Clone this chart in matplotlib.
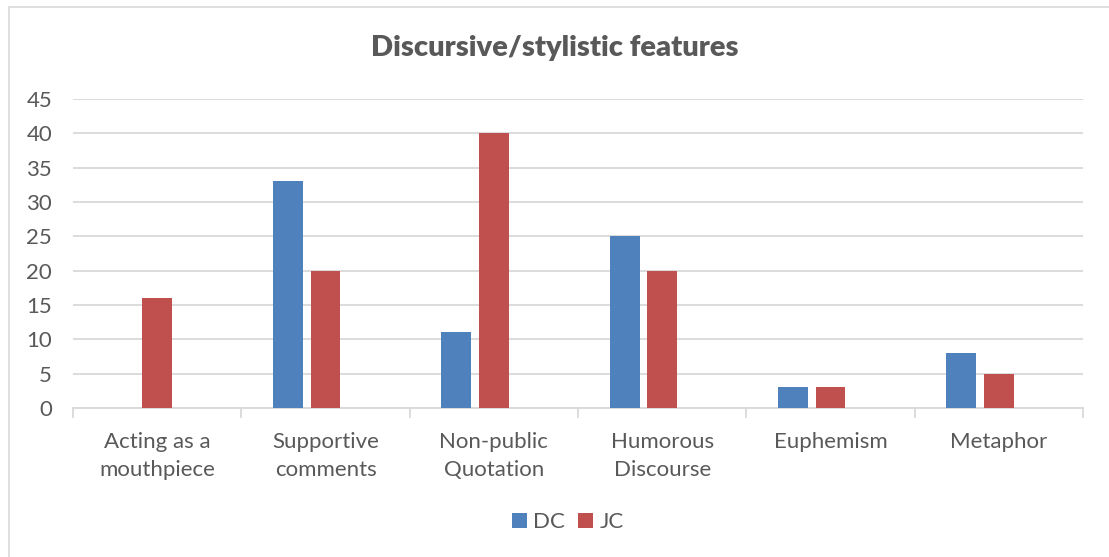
import matplotlib
matplotlib.use("Agg")
import matplotlib.pyplot as plt
from matplotlib.patches import Rectangle
import numpy as np

categories = ["Acting as a\nmouthpiece", "Supportive\ncomments", "Non-public\nQuotation",
              "Humorous\nDiscourse", "Euphemism", "Metaphor"]
dc_values = [0, 33, 11, 25, 3, 8]
jc_values = [16, 20, 40, 20, 3, 5]
y_ticks = [0, 5, 10, 15, 20, 25, 30, 35, 40, 45]

W, H = 1109, 557
fig = plt.figure(figsize=(W / 100, H / 100), dpi=100)
plt.rcParams["font.family"] = ["Lato", "DejaVu Sans"]

text_col = "#595959"
grid_col = "#d9d9d9"

# chart frame
fig.patches.append(Rectangle((9 / W, -0.1), 1.2, (H - 7) / H + 0.1, transform=fig.transFigure,
                             fill=False, edgecolor=grid_col, linewidth=1.2))

ax = fig.add_axes([73 / W, 1 - 408 / H, (1083 - 73) / W, (408 - 99) / H])
x = np.arange(len(categories))
bw = 0.178
ax.bar(x - 0.223, dc_values, width=bw, color="#4f81bd", label="DC", zorder=3)
ax.bar(x, jc_values, width=bw, color="#c0504d", label="JC", zorder=3)

ax.set_xlim(-0.5, len(categories) - 0.5)
ax.set_ylim(0, 45)
ax.set_yticks(y_ticks)
ax.set_yticklabels([str(v) for v in y_ticks], fontsize=16, color=text_col)
ax.yaxis.grid(True, color=grid_col, linewidth=1.3)
ax.set_axisbelow(True)
ax.tick_params(axis="y", length=0, pad=15)

ax.set_xticks(x)
ax.set_xticklabels(categories, fontsize=16, color=text_col, linespacing=1.55)
ax.tick_params(axis="x", length=0, pad=17)
ax.set_xticks(np.arange(len(categories) + 1) - 0.5, minor=True)
ax.tick_params(axis="x", which="minor", length=7, color=grid_col, width=1.3)

for s in ["top", "right", "left"]:
    ax.spines[s].set_visible(False)
ax.spines["bottom"].set_color(grid_col)
ax.spines["bottom"].set_linewidth(1.3)

fig.text(0.5, 1 - 48 / H, "Discursive/stylistic features", ha="center", va="center",
         fontsize=21, fontweight="heavy", color=text_col)

fig.legend(loc="center", bbox_to_anchor=(568 / W, 1 - 522 / H), ncol=2, frameon=False,
           fontsize=16, labelcolor=text_col, handlelength=0.65, handleheight=0.65,
           handletextpad=0.3, columnspacing=0.6)

fig.savefig("out.png", dpi=100)
